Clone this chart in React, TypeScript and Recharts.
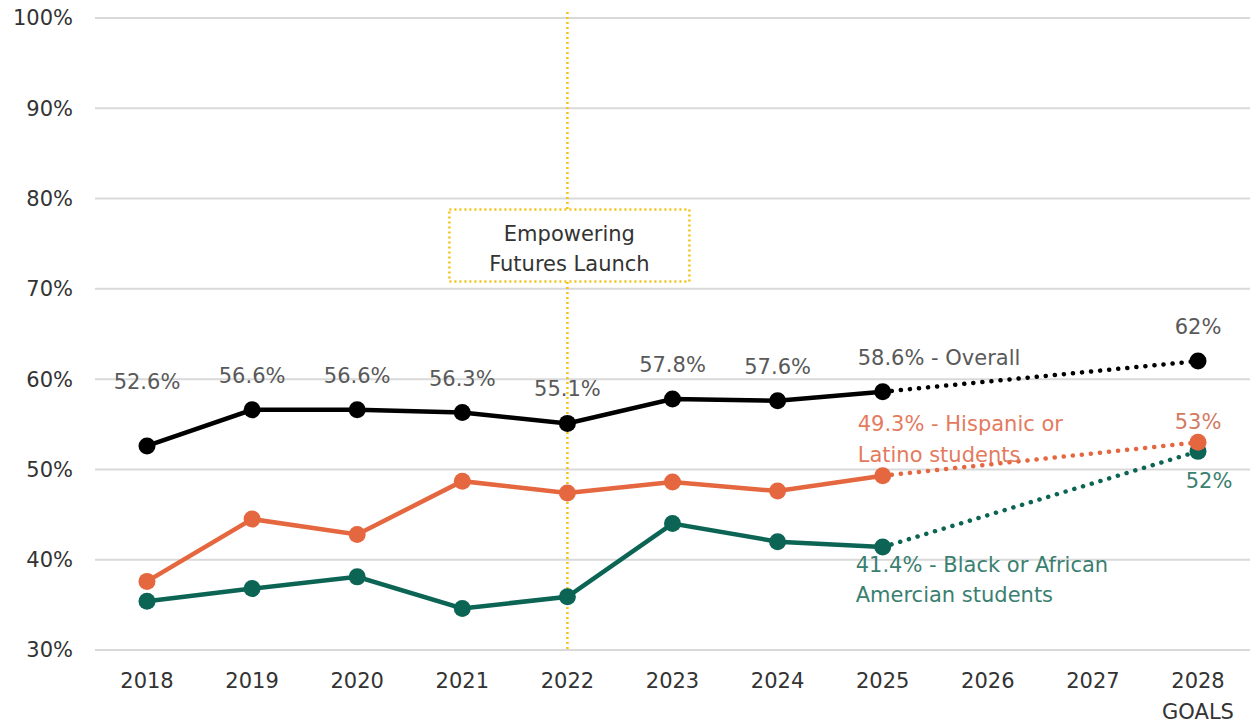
import { LineChart, Line, XAxis, YAxis, CartesianGrid, ReferenceLine, ReferenceDot, LabelList } from 'recharts';

// Graduation-rate style trend with 2028 goals
const YEARS = ['2018', '2019', '2020', '2021', '2022', '2023', '2024', '2025', '2026', '2027', '2028'];
const OVERALL = [52.6, 56.6, 56.6, 56.3, 55.1, 57.8, 57.6, 58.6];
const HISPANIC = [37.6, 44.5, 42.8, 48.7, 47.4, 48.6, 47.6, 49.3];
const BLACK = [35.4, 36.8, 38.1, 34.6, 35.9, 44.0, 42.0, 41.4];
const GOALS = { overall: 62, hispanic: 53, black: 52 };
const Y_TICKS = [30, 40, 50, 60, 70, 80, 90, 100];
const LAUNCH_YEAR = '2022';
const LAUNCH_TEXT = ['Empowering', 'Futures Launch'];

const FONT = '"DejaVu Sans", sans-serif';
const FS = 21;
const BLACK_C = '#000000';
const ORANGE = '#E5673F';
const TEAL = '#0C6455';
const GOLD = '#F2C418';
const LAST = OVERALL.length - 1;
const GOAL_IDX = YEARS.length - 1;

const data = YEARS.map((year, i) => ({
  year,
  overall: i <= LAST ? OVERALL[i] : null,
  hispanic: i <= LAST ? HISPANIC[i] : null,
  black: i <= LAST ? BLACK[i] : null,
  overallGoal: i === LAST ? OVERALL[LAST] : i === GOAL_IDX ? GOALS.overall : null,
  hispanicGoal: i === LAST ? HISPANIC[LAST] : i === GOAL_IDX ? GOALS.hispanic : null,
  blackGoal: i === LAST ? BLACK[LAST] : i === GOAL_IDX ? GOALS.black : null,
}));

const fmt = (v: number) => `${v}%`;

function XTick({ x, y, payload }: any) {
  return (
    <g>
      <text x={x} y={y + 30} textAnchor="middle" fontSize={FS} fill="#333" fontFamily={FONT}>
        {payload.value}
      </text>
      {payload.value === YEARS[GOAL_IDX] && (
        <text x={x} y={y + 61} textAnchor="middle" fontSize={FS} fill="#333" fontFamily={FONT}>
          GOALS
        </text>
      )}
    </g>
  );
}

function OverallLabel({ x, y, value, index }: any) {
  if (value == null) return null;
  if (index === LAST) {
    return (
      <text x={x - 25} y={y - 27} fontSize={FS} fill="#595959" fontFamily={FONT}>
        {`${fmt(value)} - Overall`}
      </text>
    );
  }
  const dy = index === 0 ? -57 : -27;
  return (
    <text x={x} y={y + dy} textAnchor="middle" fontSize={FS} fill="#595959" fontFamily={FONT}>
      {fmt(value)}
    </text>
  );
}

function HispanicLabel({ x, y, value, index }: any) {
  if (index !== LAST || value == null) return null;
  return (
    <text x={x - 25} fontSize={FS} fill="#E47A5E" fontFamily={FONT}>
      <tspan x={x - 25} y={y - 45}>{`${fmt(value)} - Hispanic or`}</tspan>
      <tspan x={x - 25} y={y - 14}>Latino students</tspan>
    </text>
  );
}

function BlackLabel({ x, y, value, index }: any) {
  if (index !== LAST || value == null) return null;
  return (
    <text x={x - 27} fontSize={FS} fill="#3A7F70" fontFamily={FONT}>
      <tspan x={x - 27} y={y + 25}>{`${fmt(value)} - Black or African`}</tspan>
      <tspan x={x - 27} y={y + 55}>Amercian students</tspan>
    </text>
  );
}

const goalLabel = (color: string, dx: number, dy: number) => ({ x, y, value, index }: any) => {
  if (index !== GOAL_IDX || value == null) return null;
  return (
    <text x={x + dx} y={y + dy} textAnchor="middle" fontSize={FS} fill={color} fontFamily={FONT}>
      {fmt(value)}
    </text>
  );
};

const goalDot = (color: string) => (props: any) => {
  const { cx, cy, index } = props;
  if (index !== GOAL_IDX) return <g key={`gd-${index}`} />;
  return <circle key={`gd-${index}`} cx={cx} cy={cy} r={8.5} fill={color} />;
};

function LaunchBox({ cx, cy }: any) {
  const w = 240;
  const h = 72;
  return (
    <g>
      <rect
        x={cx - w / 2 + 2}
        y={cy - h / 2}
        width={w}
        height={h}
        fill="#fff"
        stroke={GOLD}
        strokeWidth={2.5}
        strokeDasharray="2 3"
      />
      <text x={cx + 2} y={cy - 5} textAnchor="middle" fontSize={FS} fill="#333" fontFamily={FONT}>
        {LAUNCH_TEXT[0]}
      </text>
      <text x={cx + 2} y={cy + 25} textAnchor="middle" fontSize={FS} fill="#333" fontFamily={FONT}>
        {LAUNCH_TEXT[1]}
      </text>
    </g>
  );
}

// launch marker pokes a little above the plot top, like the original
function LaunchLine(props: any) {
  const { x1, y1, x2, y2 } = props;
  return (
    <line
      x1={x1}
      y1={Math.min(y1, y2) - 6}
      x2={x2}
      y2={Math.max(y1, y2)}
      stroke={GOLD}
      strokeWidth={2.5}
      strokeDasharray="2 3"
    />
  );
}

const solidDot = (color: string) => ({ r: 8.5, fill: color, stroke: color, strokeWidth: 0 });

export default function App() {
  return (
    <div style={{ position: 'absolute', left: 0, top: 0, background: '#fff' }}>
      <LineChart
        width={1253}
        height={725}
        data={data}
        margin={{ top: 18, right: 3, bottom: 15, left: 0 }}
      >
        <CartesianGrid vertical={false} stroke="#d9d9d9" strokeWidth={2} />
        <XAxis
          dataKey="year"
          axisLine={false}
          tickLine={false}
          height={60}
          padding={{ left: 52, right: 52 }}
          tick={<XTick />}
          interval={0}
        />
        <YAxis
          domain={[30, 100]}
          ticks={Y_TICKS}
          tickFormatter={fmt}
          axisLine={false}
          tickLine={false}
          tickSize={0}
          tickMargin={22}
          width={95}
          tick={{ fontSize: FS, fill: '#333', fontFamily: FONT }}
        />

        <Line
          dataKey="blackGoal"
          stroke={TEAL}
          strokeWidth={4.5}
          strokeDasharray="0.1 9"
          strokeLinecap="round"
          connectNulls
          dot={goalDot(TEAL)}
          activeDot={false}
          isAnimationActive={false}
        >
          <LabelList dataKey="blackGoal" content={goalLabel('#3A7F70', 11, 37)} />
        </Line>
        <Line
          dataKey="hispanicGoal"
          stroke={ORANGE}
          strokeWidth={4.5}
          strokeDasharray="0.1 9"
          strokeLinecap="round"
          connectNulls
          dot={goalDot(ORANGE)}
          activeDot={false}
          isAnimationActive={false}
        >
          <LabelList dataKey="hispanicGoal" content={goalLabel('#D27A62', 0, -13)} />
        </Line>
        <Line
          dataKey="overallGoal"
          stroke={BLACK_C}
          strokeWidth={4.5}
          strokeDasharray="0.1 9"
          strokeLinecap="round"
          connectNulls
          dot={goalDot(BLACK_C)}
          activeDot={false}
          isAnimationActive={false}
        >
          <LabelList dataKey="overallGoal" content={goalLabel('#595959', 0, -27)} />
        </Line>

        <Line
          dataKey="black"
          stroke={TEAL}
          strokeWidth={4.5}
          dot={solidDot(TEAL)}
          activeDot={false}
          isAnimationActive={false}
        >
          <LabelList dataKey="black" content={<BlackLabel />} />
        </Line>
        <Line
          dataKey="hispanic"
          stroke={ORANGE}
          strokeWidth={4.5}
          dot={solidDot(ORANGE)}
          activeDot={false}
          isAnimationActive={false}
        >
          <LabelList dataKey="hispanic" content={<HispanicLabel />} />
        </Line>
        <Line
          dataKey="overall"
          stroke={BLACK_C}
          strokeWidth={4.5}
          dot={solidDot(BLACK_C)}
          activeDot={false}
          isAnimationActive={false}
        >
          <LabelList dataKey="overall" content={<OverallLabel />} />
        </Line>

        <ReferenceLine x={LAUNCH_YEAR} ifOverflow="visible" shape={<LaunchLine />} />
        <ReferenceDot x={LAUNCH_YEAR} y={74.8} r={0} shape={<LaunchBox />} />
      </LineChart>
    </div>
  );
}
